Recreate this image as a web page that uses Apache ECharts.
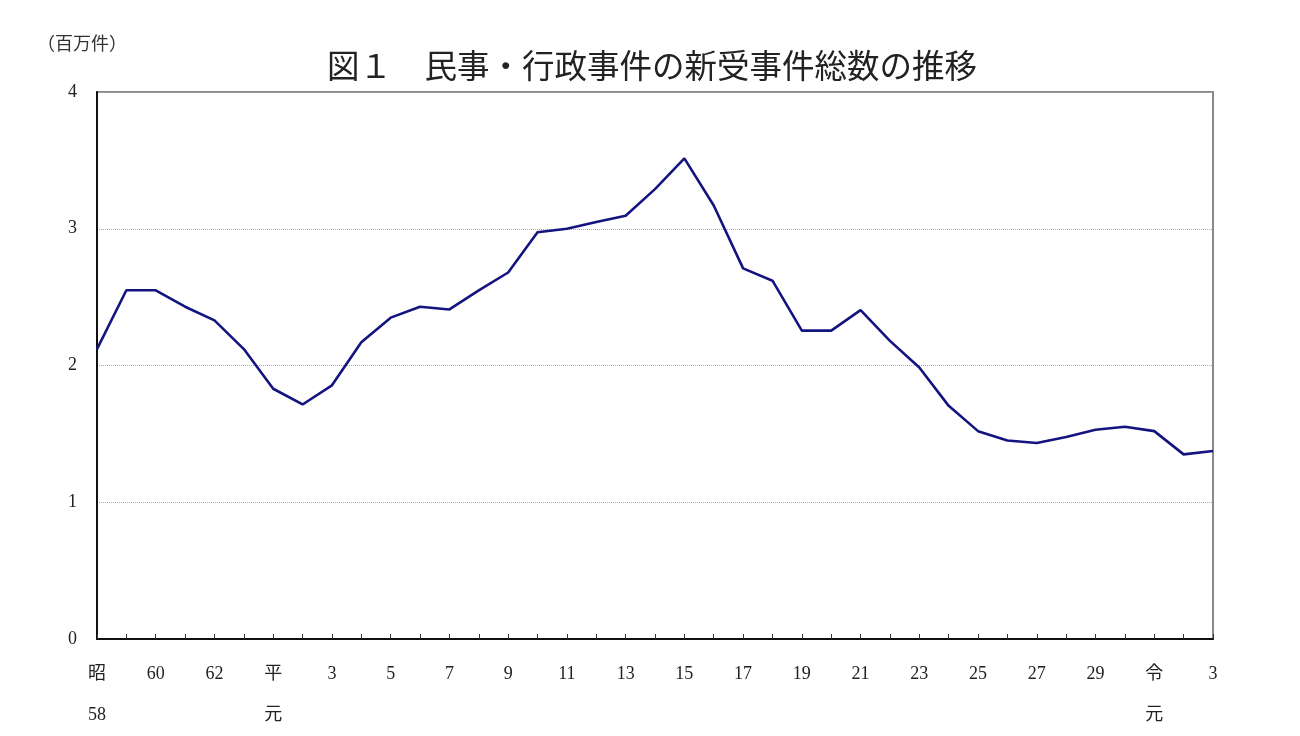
<!DOCTYPE html>
<html>
<head>
<meta charset="utf-8">
<script src="https://cdn.jsdelivr.net/npm/echarts@6/dist/echarts.min.js"></script>
<style>
html,body{margin:0;padding:0;background:#fff;}
#chart{width:1300px;height:736px;}
</style>
</head>
<body>
<div id="chart"></div>
<script>
// 年次（昭和58年〜令和3年）
const categories = ['昭\n58','59','60','61','62','63','平\n元','2','3','4','5','6','7','8','9','10','11','12','13','14','15','16','17','18','19','20','21','22','23','24','25','26','27','28','29','30','令\n元','2','3'];
// 新受事件総数（百万件）
const totalCases = [2.12,2.55,2.55,2.43,2.33,2.12,1.83,1.715,1.855,2.17,2.35,2.43,2.41,2.55,2.68,2.975,3.0,3.05,3.095,3.29,3.515,3.17,2.71,2.62,2.255,2.255,2.405,2.18,1.985,1.705,1.52,1.452,1.433,1.477,1.53,1.552,1.52,1.35,1.375];
const yTicks = [0,1,2,3,4];
const titleText = '図１　民事・行政事件の新受事件総数の推移';
const unitText = '（百万件）';

const chart = echarts.init(document.getElementById('chart'));
const serif = '"Liberation Serif","Noto Sans CJK JP",serif';
chart.setOption({
  backgroundColor: '#fff',
  animation: false,
  title: {
    text: titleText,
    left: 322,
    top: 44,
    textStyle: {fontFamily: '"Noto Sans CJK JP"', fontSize: 32.5, fontWeight: 'normal', color: '#222'}
  },
  graphic: [{
    type: 'text', left: 37, top: 34,
    style: {text: unitText, font: '18px "Noto Sans CJK JP"', fill: '#333'}
  }],
  grid: {
    left: 97, right: 87, top: 92, bottom: 95,
    show: true, borderColor: '#8a8a8a', borderWidth: 2, backgroundColor: 'transparent'
  },
  xAxis: {
    type: 'category',
    data: categories,
    boundaryGap: false,
    axisLine: {lineStyle: {color: '#111', width: 2}},
    axisTick: {show: true, inside: true, length: 5, interval: 0, lineStyle: {color: '#333', width: 1}},
    axisLabel: {interval: 1, margin: 15, fontFamily: serif, fontSize: 18, lineHeight: 41, color: '#222', showMinLabel: true, showMaxLabel: true},
    splitLine: {show: false}
  },
  yAxis: {
    type: 'value',
    min: yTicks[0], max: yTicks[yTicks.length-1], interval: 1,
    axisLine: {show: true, lineStyle: {color: '#111', width: 2}},
    axisTick: {show: false},
    axisLabel: {margin: 20, fontFamily: serif, fontSize: 18, color: '#222'},
    splitLine: {show: true, lineStyle: {color: '#aaa', type: 'dotted', width: 1}}
  },
  series: [{
    type: 'line',
    data: totalCases,
    symbol: 'none',
    lineStyle: {color: '#141480', width: 2.6},
    itemStyle: {color: '#141480'}
  }]
});
</script>
</body>
</html>
